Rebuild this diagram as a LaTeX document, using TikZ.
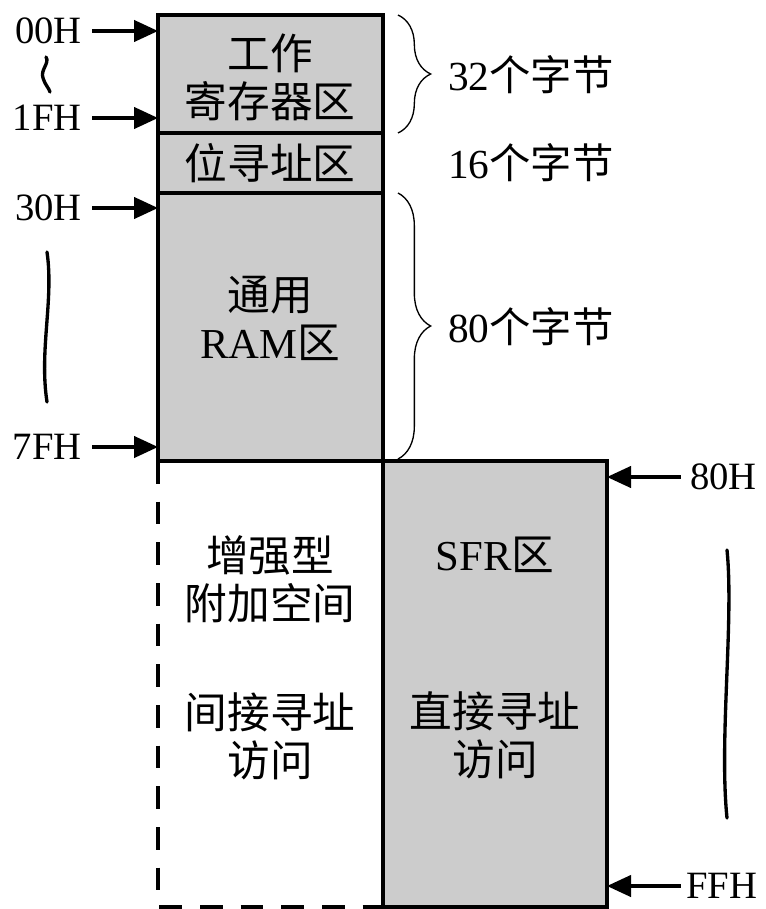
\documentclass[tikz,border=0pt]{standalone}
\usepackage{fontspec}
\setmainfont{Liberation Serif}
\newfontfamily\cjk{Noto Sans CJK SC}
\usetikzlibrary{arrows.meta,decorations.pathreplacing}
\definecolor{boxgray}{RGB}{204,204,204}
\begin{document}
\begin{tikzpicture}[x=0.75pt,y=-0.75pt,
  region/.style={draw,fill=boxgray,line width=2.5pt,inner sep=0pt,outer sep=0pt},
  txt/.style={font=\cjk\fontsize{32}{36}\selectfont,align=center,inner sep=0pt},
  lbl/.style={font=\fontsize{31}{36}\selectfont,inner sep=0pt},
  addr/.style={font=\fontsize{29}{34}\selectfont,inner sep=0pt},
  arr/.style={line width=2.4pt,-{Triangle[length=18pt,width=16pt]}},
  brc/.style={line width=1pt,decorate,decoration={brace,amplitude=24.5pt}},
  wav/.style={line width=2.5pt,line cap=round},
  dsh/.style={line width=2.5pt,dash pattern=on 17pt off 13.5pt}]
\useasboundingbox (0,0) rectangle (766,909);
% regions
\node[region,minimum width=168.75pt,minimum height=88.5pt] (reg) at (270.5,74) {};
\node[region,minimum width=168.75pt,minimum height=45pt] (bit) at (270.5,163) {};
\node[region,minimum width=168.75pt,minimum height=201pt] (ram) at (270.5,327) {};
\node[region,minimum width=168pt,minimum height=334.5pt] (sfr) at (495,684) {};
\draw[dsh] (ram.south west) -- (ram.south west |- sfr.south) -- (sfr.south west);
% region texts
\node[txt] (t1) at (270,77) {工作\\寄存器区};
\node[txt] (t2) at (270,163) {位寻址区};
\node[txt] (t3) at (270,318) {通用\\{\rmfamily RAM}区};
\node[txt] (t4) at (270,579) {增强型\\附加空间};
\node[txt] (t5) at (270,736) {间接寻址\\访问};
\node[txt] (t6) at (495,555) {{\rmfamily SFR}区};
\node[txt] (t7) at (495,735) {直接寻址\\访问};
% address labels
\node[addr,anchor=east] (l00) at (82,31) {00H};
\node[addr,anchor=east] (l1F) at (82,118) {1FH};
\node[addr,anchor=east] (l30) at (82,208) {30H};
\node[addr,anchor=east] (l7F) at (82,447) {7FH};
\node[addr,anchor=west] (l80) at (690,477) {80H};
\node[addr,anchor=west] (lFF) at (686,886) {FFH};
\draw[arr] ([xshift=7.5pt]l00.east) -- (l00.east -| reg.west);
\draw[arr] ([xshift=7.5pt]l1F.east) -- (l1F.east -| reg.west);
\draw[arr] ([xshift=7.5pt]l30.east) -- (l30.east -| ram.west);
\draw[arr] ([xshift=7.5pt]l7F.east) -- (l7F.east -| ram.west);
\draw[arr] ([xshift=-7pt]l80.west) -- (l80.west -| sfr.east);
\draw[arr] ([xshift=-4pt]lFF.west) -- (lFF.west -| sfr.east);
% braces
\coordinate (b1a) at (398,15);
\coordinate (b1b) at (398,133);
\coordinate (b2a) at (398,193);
\coordinate (b2b) at (398,459);
\draw[brc] (b1a) -- (b1b);
\draw[brc] (b2a) -- (b2b);
\node[lbl,anchor=west] (n32) at (448,75) {32{\cjk 个字节}};
\node[lbl,anchor=west] (n16) at (448,163) {16{\cjk 个字节}};
\node[lbl,anchor=west] (n80) at (448,327) {80{\cjk 个字节}};
% wavy range marks
\draw[wav] (46,57) .. controls (50,63) and (40,70) .. (43,78) .. controls (45,85) and (49,88) .. (50,92);
\draw[wav] (47,252) .. controls (54,300) and (39,350) .. (47,402);
\draw[wav] (727,550) .. controls (734,620) and (719,740) .. (727,818);
\end{tikzpicture}
\end{document}
